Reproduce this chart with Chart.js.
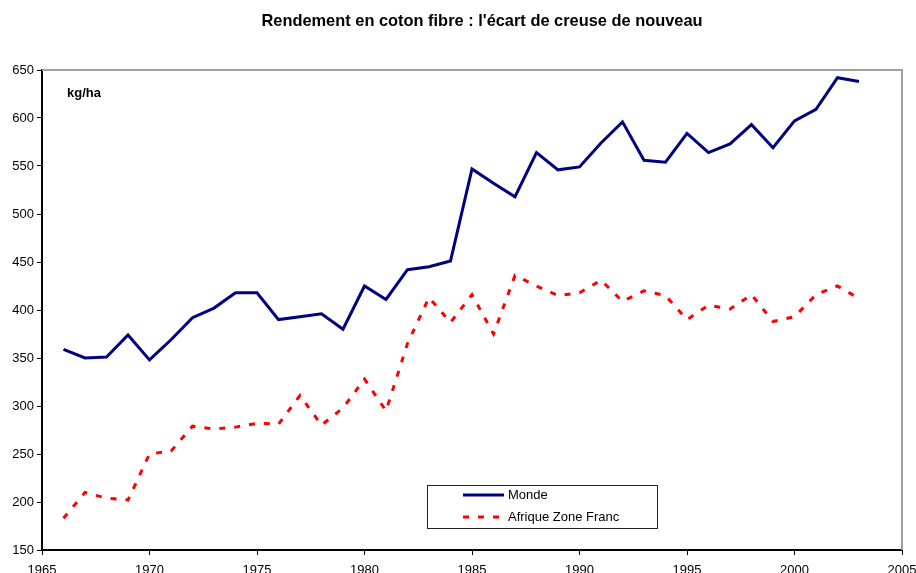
<!DOCTYPE html>
<html>
<head>
<meta charset="utf-8">
<script src="https://cdn.jsdelivr.net/npm/chart.js@4"></script>
<style>
html,body{margin:0;padding:0;background:#fff;}
#wrap{width:916px;height:573px;position:relative;}
</style>
</head>
<body>
<div id="wrap"><canvas id="c" width="916" height="573"></canvas></div>
<script>
const titleText = "Rendement en coton fibre : l'écart de creuse de nouveau";
const unitLabel = "kg/ha";
const years = [1966,1967,1968,1969,1970,1971,1972,1973,1974,1975,1976,1977,1978,1979,1980,1981,1982,1983,1984,1985,1986,1987,1988,1989,1990,1991,1992,1993,1994,1995,1996,1997,1998,1999,2000,2001,2002,2003];
const monde = [359,350,351,374,348,369,392,402,418,418,390,393,396,380,425,411,442,445,451,547,532,518,564,546,549,574,596,556,554,584,564,573,593,569,597,609,642,638];
const afrique = [183,210,204,202,250,253,279,276,278,282,281,311,280,298,328,295,365,413,387,416,375,436,425,415,418,431,409,420,415,390,405,401,416,388,393,416,425,412];
const seriesNames = ["Monde","Afrique Zone Franc"];
const xTicks = {min:1965, max:2005, step:5};
const yTicks = {min:150, max:650, step:50};

const FONT = "'Liberation Sans', Arial, sans-serif";

const framePlugin = {
  id:'frame',
  beforeDatasetsDraw(chart){
    const {ctx, chartArea:a} = chart;
    ctx.save();
    ctx.strokeStyle = '#a0a0a0';
    ctx.lineWidth = 2;
    ctx.beginPath();
    ctx.moveTo(a.left, a.top);
    ctx.lineTo(a.right, a.top);
    ctx.lineTo(a.right, a.bottom);
    ctx.stroke();
    ctx.restore();
  },
  afterDraw(chart){
    const {ctx, chartArea:a} = chart;
    ctx.save();
    // title
    ctx.fillStyle = '#000';
    ctx.font = "bold 16.4px " + FONT;
    ctx.textBaseline = 'middle';
    ctx.textAlign = 'center';
    ctx.fillText(titleText, 482, 21);
    // unit label
    ctx.font = "bold 13px " + FONT;
    ctx.textAlign = 'left';
    ctx.fillText(unitLabel, a.left + 25, a.top + 23);
    // legend box
    const bx = 427, by = 485, bw = 230, bh = 43;
    ctx.fillStyle = '#fff';
    ctx.fillRect(bx, by, bw, bh);
    ctx.strokeStyle = '#222';
    ctx.lineWidth = 1;
    ctx.strokeRect(bx + 0.5, by + 0.5, bw, bh);
    ctx.font = "13px " + FONT;
    ctx.fillStyle = '#000';
    chart.data.datasets.forEach((ds, i) => {
      const yy = by + 10 + i * 22;
      ctx.save();
      ctx.strokeStyle = ds.borderColor;
      ctx.lineWidth = 3;
      ctx.setLineDash(ds.borderDash || []);
      ctx.beginPath();
      ctx.moveTo(bx + 36, yy);
      ctx.lineTo(bx + 77, yy);
      ctx.stroke();
      ctx.restore();
      ctx.fillText(ds.label, bx + 81, yy + 0.5);
    });
    ctx.restore();
  }
};

const toPts = arr => years.map((y, i) => ({x: y, y: arr[i]}));

new Chart(document.getElementById('c'), {
  type: 'line',
  data: {
    datasets: [
      {label: seriesNames[0], data: toPts(monde), borderColor: '#000080', borderWidth: 3, pointRadius: 0, tension: 0, fill: false},
      {label: seriesNames[1], data: toPts(afrique), borderColor: '#ff0000', borderWidth: 3, borderDash: [6, 9], pointRadius: 0, tension: 0, fill: false}
    ]
  },
  options: {
    responsive: false,
    animation: false,
    devicePixelRatio: 1,
    layout: {padding: {left: 0, right: 14, top: 70, bottom: 0}},
    plugins: {
      legend: {display: false},
      tooltip: {enabled: false},
      title: {display: false}
    },
    scales: {
      x: {
        type: 'linear',
        min: xTicks.min, max: xTicks.max,
        ticks: {stepSize: xTicks.step, color: '#000', font: {family: FONT, size: 13}, padding: 8, maxRotation: 0, callback: v => String(v)},
        grid: {drawOnChartArea: false, drawTicks: true, tickLength: 5, color: '#000', lineWidth: 1},
        border: {display: true, color: '#000', width: 2},
        afterFit(s){ s.height = 23; s.paddingRight = 0; s.paddingLeft = 0; }
      },
      y: {
        type: 'linear',
        min: yTicks.min, max: yTicks.max,
        ticks: {stepSize: yTicks.step, color: '#000', font: {family: FONT, size: 13}, padding: 3},
        grid: {drawOnChartArea: false, drawTicks: true, tickLength: 5, color: '#000', lineWidth: 1},
        border: {display: true, color: '#000', width: 2},
        afterFit(s){ s.width = 42; }
      }
    }
  },
  plugins: [framePlugin]
});
</script>
</body>
</html>
